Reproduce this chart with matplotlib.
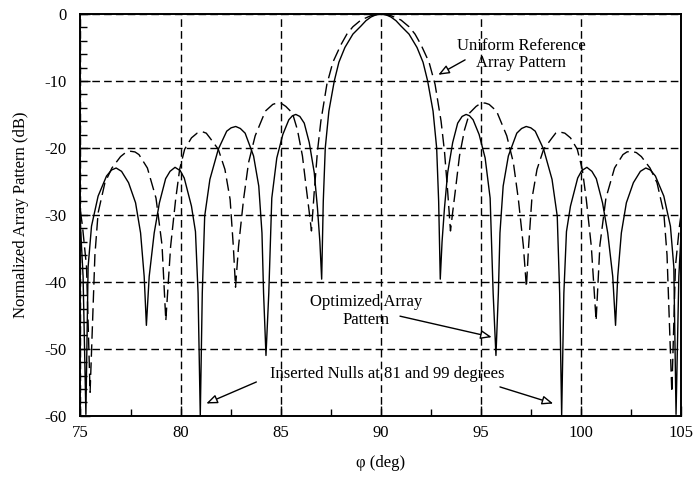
import numpy as np
import matplotlib
matplotlib.use("Agg")
import matplotlib.pyplot as plt
from matplotlib.ticker import MultipleLocator

plt.rcParams['font.family'] = ['Liberation Serif', 'DejaVu Serif']
plt.rcParams['font.size'] = 12
plt.rcParams['axes.unicode_minus'] = False

# optimized pattern (solid), nulls placed at 81 and 99 deg
phi_opt = [75.00, 75.13, 75.27, 75.38, 75.55, 75.88, 76.30, 76.55, 76.78, 77.05,
           77.40, 77.75, 78.00, 78.18, 78.29, 78.43, 78.68, 78.94, 79.25, 79.47,
           79.72, 79.98, 80.18, 80.54, 80.74, 80.87, 80.98, 81.08, 81.20, 81.46,
           81.88, 82.30, 82.52, 82.75, 82.98, 83.22, 83.64, 83.90, 84.06, 84.14,
           84.26, 84.40, 84.55, 84.80, 85.10, 85.40, 85.58, 85.75, 85.95, 86.17,
           86.42, 86.67, 86.83, 86.95, 87.04, 87.12, 87.22, 87.40, 87.67, 87.90,
           88.20, 88.60, 89.00, 89.25, 89.50, 89.75, 90.00,
           90.25, 90.50, 90.75, 91.00, 91.40, 91.80, 92.10, 92.33, 92.60, 92.78,
           92.88, 92.96, 93.05, 93.17, 93.33, 93.58, 93.83, 94.05, 94.25, 94.42,
           94.60, 94.90, 95.20, 95.45, 95.60, 95.74, 95.86, 95.94, 96.10, 96.36,
           96.78, 97.02, 97.25, 97.48, 97.70, 98.12, 98.54, 98.80, 98.92, 99.02,
           99.13, 99.26, 99.46, 99.82, 100.02, 100.28, 100.53, 100.75, 101.06, 101.32,
           101.57, 101.71, 101.82, 102.00, 102.25, 102.60, 102.95, 103.22, 103.45, 103.70,
           104.12, 104.45, 104.62, 104.73, 104.87, 105.00]
gain_opt = [-31.7, -39.2, -59.8, -37.8, -31.7, -27.2, -24.2, -23.3, -23.0, -23.5,
            -25.2, -28.2, -32.7, -39.2, -46.5, -39.2, -32.7, -28.2, -24.6, -23.5,
            -22.9, -23.4, -24.5, -28.7, -32.5, -41.7, -60.0, -41.7, -30.2, -24.7,
            -20.2, -17.5, -17.0, -16.8, -17.1, -17.8, -21.2, -25.7, -32.7, -41.7,
            -51.0, -41.7, -27.5, -21.5, -18.0, -15.8, -15.2, -15.0, -15.3, -16.3,
            -19.2, -23.7, -29.0, -34.0, -39.6, -28.0, -20.0, -14.5, -10.0, -7.2,
            -5.0, -3.0, -1.8, -1.0, -0.45, -0.12, 0.0,
            -0.12, -0.45, -1.0, -1.8, -3.0, -5.0, -7.2, -10.0, -14.5, -20.0,
            -28.0, -39.6, -34.0, -29.0, -23.7, -19.2, -16.3, -15.3, -15.0, -15.2,
            -15.8, -18.0, -21.5, -27.5, -41.7, -51.0, -41.7, -32.7, -25.7, -21.2,
            -17.8, -17.1, -16.8, -17.0, -17.5, -20.2, -24.7, -30.2, -41.7, -60.0,
            -41.7, -32.5, -28.7, -24.5, -23.4, -22.9, -23.5, -24.6, -28.2, -32.7,
            -39.2, -46.5, -39.2, -32.7, -28.2, -25.2, -23.5, -23.0, -23.3, -24.2,
            -27.2, -31.7, -37.8, -59.8, -39.2, -31.7]

# uniform reference pattern (dashed)
phi_ref = [75.00, 75.10, 75.30, 75.48, 75.72, 75.88, 76.22, 76.57, 77.00, 77.25,
           77.50, 77.72, 77.92, 78.34, 78.77, 79.07, 79.26, 79.50, 79.75, 79.95,
           80.20, 80.54, 80.82, 81.10, 81.28, 81.46, 81.88, 82.21, 82.47, 82.63,
           82.74, 82.89, 83.14, 83.39, 83.72, 84.23, 84.60, 84.80, 85.00, 85.25,
           85.58, 85.83, 86.08, 86.28, 86.42, 86.53, 86.67, 86.83, 87.00, 87.30,
           87.60, 88.00, 88.30, 88.60, 89.00, 89.50, 90.00,
           90.50, 91.00, 91.40, 91.70, 92.00, 92.40, 92.70, 93.00, 93.17, 93.33,
           93.47, 93.58, 93.72, 93.92, 94.17, 94.42, 94.75, 95.00, 95.20, 95.40,
           95.77, 96.28, 96.61, 96.86, 97.11, 97.26, 97.37, 97.53, 97.79, 98.12,
           98.54, 98.72, 98.90, 99.18, 99.46, 99.80, 100.05, 100.25, 100.50, 100.74,
           100.93, 101.23, 101.66, 102.08, 102.28, 102.50, 102.75, 103.00, 103.43, 103.78,
           104.12, 104.28, 104.52, 104.70, 104.90, 105.00]
gain_ref = [-29.5, -31.7, -37.7, -56.5, -36.0, -29.7, -25.2, -23.0, -21.3, -20.7,
            -20.5, -20.6, -21.0, -23.0, -27.5, -34.5, -45.8, -34.7, -27.7, -23.2,
            -20.2, -18.5, -17.8, -17.6, -17.8, -18.5, -20.2, -23.2, -27.7, -34.7,
            -40.8, -34.7, -27.7, -22.2, -18.2, -14.5, -13.5, -13.3, -13.3, -13.8,
            -14.8, -17.3, -21.2, -26.2, -29.6, -32.4, -26.5, -20.5, -16.0, -10.5,
            -7.2, -4.6, -3.0, -1.9, -0.9, -0.25, 0.0,
            -0.25, -0.9, -1.9, -3.0, -4.6, -7.2, -10.5, -16.0, -20.5, -26.5,
            -32.4, -29.6, -26.2, -21.2, -17.3, -14.8, -13.8, -13.3, -13.3, -13.5,
            -14.5, -18.2, -22.2, -27.7, -34.7, -40.8, -34.7, -27.7, -23.2, -20.2,
            -18.5, -17.8, -17.6, -17.8, -18.5, -20.2, -23.2, -27.7, -34.7, -45.8,
            -34.5, -27.5, -23.0, -21.0, -20.6, -20.5, -20.7, -21.3, -23.0, -25.2,
            -29.7, -36.0, -56.5, -37.7, -31.7, -29.5]

fig = plt.figure(figsize=(6.95, 4.78), dpi=100)
ax = fig.add_axes([0.1158, 0.1303, 0.8647, 0.8404])

ax.plot(phi_opt, gain_opt, color='black', lw=1.0)
ax.plot(phi_ref, gain_ref, color='black', lw=1.0, linestyle=(0, (9, 4)))

ax.set_xlim(75, 105)
ax.set_ylim(-60, 0)
ax.xaxis.set_major_locator(MultipleLocator(5))
ax.xaxis.set_minor_locator(MultipleLocator(2.5))
ax.yaxis.set_major_locator(MultipleLocator(10))
ax.yaxis.set_minor_locator(MultipleLocator(2))
ax.tick_params(which='both', direction='in', top=False, right=False, width=1)
ax.tick_params(which='major', length=7)
ax.tick_params(which='minor', length=5)
ax.tick_params(axis='y', pad=10)
ax.tick_params(axis='x', pad=7)
ax.grid(True, which='major', color='black', lw=1.0, linestyle=(0, (5.5, 3)))
for s in ax.spines.values():
    s.set_linewidth(1.4)

ax.set_xlabel('φ (deg)', labelpad=10)
ax.set_ylabel('Normalized Array Pattern (dB)', labelpad=11)

arrow = dict(arrowstyle='-|>,head_length=0.55,head_width=0.22', fc='white',
             ec='black', lw=1.0, shrinkA=0, shrinkB=0)

ax.text(96.99, -6.1, 'Uniform Reference\nArray Pattern', ha='center', va='center',
        linespacing=1.1)
ax.annotate('', xy=(92.86, -9.08), xytext=(94.2, -6.85), arrowprops=arrow)

ax.text(89.25, -44.35, 'Optimized Array\nPattern', ha='center', va='center',
        linespacing=1.1)
ax.annotate('', xy=(95.53, -48.26), xytext=(90.95, -45.13), arrowprops=arrow)

ax.text(90.33, -53.8, 'Inserted Nulls at 81 and 99 degrees', ha='center', va='center')
ax.annotate('', xy=(81.28, -58.18), xytext=(83.78, -54.96), arrowprops=arrow)
ax.annotate('', xy=(98.6, -58.18), xytext=(95.94, -55.7), arrowprops=arrow)

fig.savefig('out.png', dpi=100)
